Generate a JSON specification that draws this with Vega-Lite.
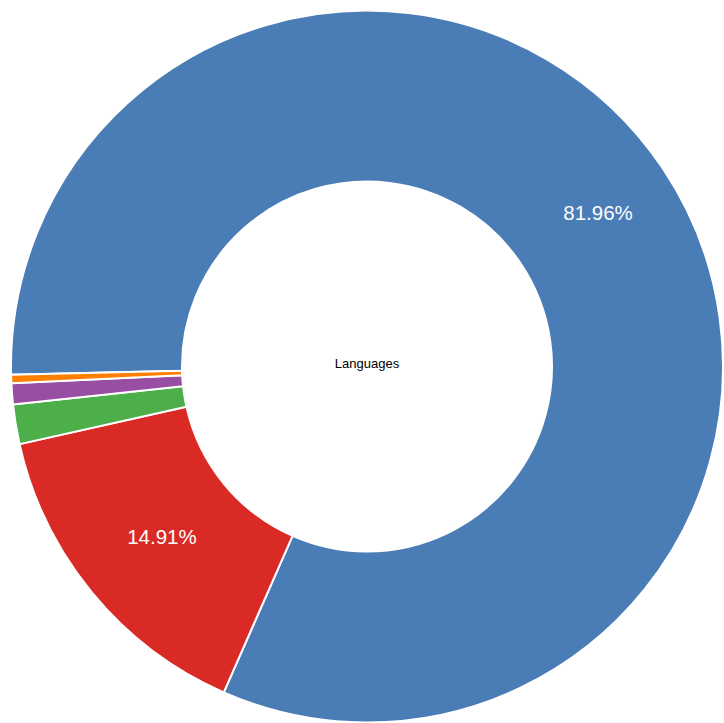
{
  "$schema": "https://vega.github.io/schema/vega-lite/v6.json",
  "autosize": {"type": "fit", "contains": "padding"},
  "width": 724,
  "height": 723,
  "padding": {"left": 10, "top": 10, "right": 0, "bottom": 0},
  "background": "white",
  "config": {"view": {"stroke": null}},
  "data": {
    "values": [
      {"language": "A", "value": 81.96, "rank": 1, "label": "81.96%"},
      {"language": "B", "value": 14.91, "rank": 2, "label": "14.91%"},
      {"language": "C", "value": 1.8, "rank": 3, "label": ""},
      {"language": "D", "value": 0.95, "rank": 4, "label": ""},
      {"language": "E", "value": 0.38, "rank": 5, "label": ""}
    ]
  },
  "encoding": {
    "theta": {"field": "value", "type": "quantitative", "stack": true, "scale": {"range": [-1.594, 4.6892]}},
    "order": {"field": "rank", "type": "quantitative", "sort": "ascending"},
    "color": {
      "field": "language",
      "type": "nominal",
      "legend": null,
      "scale": {"domain": ["A", "B", "C", "D", "E"], "range": ["#4a7cb6", "#da2a25", "#4caf4a", "#984ea3", "#ff7f00"]}
    }
  },
  "layer": [
    {
      "mark": {"type": "arc", "outerRadius": 356, "innerRadius": 185, "stroke": "white", "strokeWidth": 2}
    },
    {
      "mark": {"type": "text", "radius": 272, "fill": "white", "fontSize": 20.5, "font": "Liberation Sans", "dx": 5, "dy": -1},
      "encoding": {
        "text": {"field": "label", "type": "nominal"},
        "color": {"value": "white"}
      }
    },
    {
      "data": {"values": [{"title": "Languages"}]},
      "mark": {"type": "text", "fontSize": 13, "font": "Liberation Sans", "fill": "black", "dy": -3},
      "encoding": {
        "text": {"field": "title", "type": "nominal"},
        "theta": null,
        "order": null,
        "color": {"value": "black"}
      }
    }
  ]
}
